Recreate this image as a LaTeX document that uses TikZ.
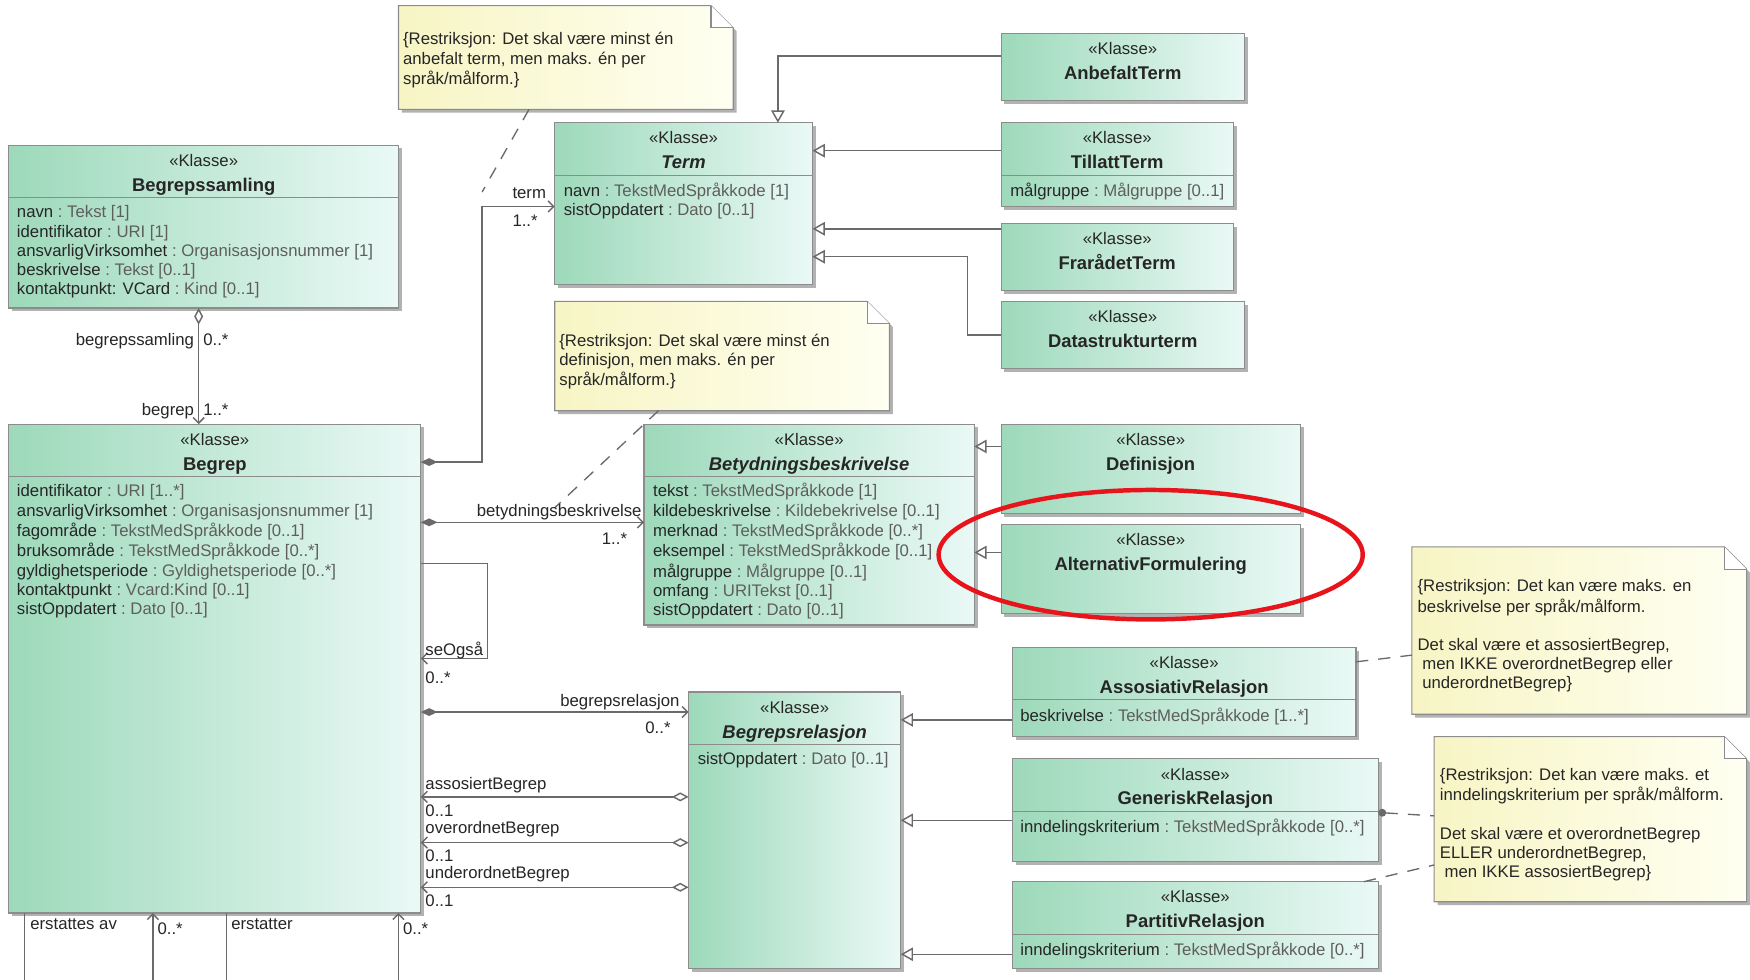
\documentclass[tikz,border=0pt]{standalone}
\usepackage{fontspec}
\setmainfont{Liberation Sans}
\usetikzlibrary{arrows.meta,shadows,calc}
\definecolor{clsL}{HTML}{9DD9BA}
\definecolor{clsR}{HTML}{EAF9F6}
\definecolor{clsborder}{HTML}{8C8C8C}
\definecolor{lncol}{HTML}{6A6A6A}
\definecolor{txtdark}{HTML}{262626}
\definecolor{txttype}{HTML}{5E5E5E}
\definecolor{noteL}{HTML}{F7F5C4}
\definecolor{noteR}{HTML}{FFFFF2}
\definecolor{hlred}{HTML}{E8141C}
\newcommand\attrfont{\fontsize{15}{17.2}\selectfont}
\newcommand\titlefont{\fontsize{16.5}{19}\selectfont\bfseries}
\newcommand\uattr[2]{\strut\textcolor{txtdark}{#1}\ \textcolor{txttype}{:\ #2}}
\newcommand\klasse[6]{%
  \node[clsbox, minimum width={#4-#2}, minimum height={#5-#3}] (#1) at (#2,#3) {};
  \node[stereo] (#1st) at ({(#2+#4)/2},{#3+15}) {«Klasse»};
  \node[ctitle] (#1ti) at ({(#2+#4)/2},{#3+37}) {#6};}
\newcommand\kdiv[1]{\draw[divline] ([yshift=-47pt]#1.north west) -- ([yshift=-47pt]#1.north east);}
\newcommand\umlnote[5]{%
  \node[anchor=north west, inner sep=0pt, outer sep=0pt, minimum width={#4-#2}, minimum height={#5-#3}] (#1) at (#2,#3) {};
  \path[notebody] (#1.north west) -- ([xshift=-20pt]#1.north east) -- ([yshift=-20pt]#1.north east) -- (#1.south east) -- (#1.south west) -- cycle;
  \draw[notefold] ([xshift=-20pt]#1.north east) -- ([xshift=-20pt,yshift=-20pt]#1.north east) -- ([yshift=-20pt]#1.north east);}
\begin{document}
\begin{tikzpicture}[x=1pt,y=-1pt,
  clsbox/.style={draw=clsborder, line width=1pt, left color=clsL, right color=clsR, anchor=north west, inner sep=0pt, outer sep=0pt,
    drop shadow={shadow xshift=3pt, shadow yshift=-3pt, fill=black, opacity=0.3}},
  stereo/.style={font=\attrfont, text=txtdark, inner sep=0pt, text height=11pt, text depth=3pt},
  ctitle/.style={font=\titlefont, text=black!85, inner sep=0pt, text height=12pt, text depth=3.5pt},
  divline/.style={draw=clsborder, line width=1pt},
  attrs/.style={anchor=north west, inner sep=0pt, align=left, font=\attrfont},
  notetext/.style={anchor=north west, inner sep=0pt, align=left, font=\attrfont, text=txtdark},
  notebody/.style={draw=clsborder, line width=1pt, left color=noteL, right color=noteR,
    drop shadow={shadow xshift=3pt, shadow yshift=-3pt, fill=black, opacity=0.3}},
  notefold/.style={draw=clsborder, line width=1pt, fill=white},
  lbl/.style={font=\attrfont, text=txtdark, inner sep=0pt, text height=11pt, text depth=3pt},
  assoc/.style={draw=lncol, line width=1.3pt},
  navi/.style={-{Straight Barb[length=5pt,width=10pt]}},
  gen/.style={assoc, -{Triangle[length=11pt,width=12pt,fill=white]}},
  noteln/.style={draw=lncol, line width=1.2pt, dash pattern=on 11pt off 9pt},
  fdia/.style={{Diamond[length=15pt,width=7pt]}-{Straight Barb[length=5pt,width=10pt]}},
  hdia/.style={{Straight Barb[length=5pt,width=10pt]}-{Diamond[length=15pt,width=8pt,fill=white]}}
]
\useasboundingbox (0,0) rectangle (1568,878);
\clip (0,0) rectangle (1568,878);
\fill[white] (0,0) rectangle (1568,878);

% ---------- notes ----------
\umlnote{noteA}{357}{5}{657}{98}
\node[notetext] (noteAt) at (361,28) {\strut\{Restriksjon: Det skal være minst én\\ \strut anbefalt term, men maks. én per\\ \strut språk/målform.\}};
\umlnote{noteB}{497}{270}{797}{368}
\node[notetext] (noteBt) at (501,298) {\strut\{Restriksjon: Det skal være minst én\\ \strut definisjon, men maks. én per\\ \strut språk/målform.\}};
\umlnote{noteC}{1265}{490}{1565}{640}
\node[notetext] (noteCt) at (1270,518) {\strut\{Restriksjon: Det kan være maks. en\\ \strut beskrivelse per språk/målform.\\ \strut\\ \strut Det skal være et assosiertBegrep,\\ \strut\ men IKKE overordnetBegrep eller\\ \strut\ underordnetBegrep\}};
\umlnote{noteD}{1285}{660}{1565}{808}
\node[notetext] (noteDt) at (1290,687) {\strut\{Restriksjon: Det kan være maks. et\\ \strut inndelingskriterium per språk/målform.\\ \strut\\ \strut Det skal være et overordnetBegrep\\ \strut ELLER underordnetBegrep,\\ \strut\ men IKKE assosiertBegrep\}};

% ---------- classes ----------
\klasse{samling}{8}{130}{357}{276}{Begrepssamling}
\kdiv{samling}
\node[attrs] (samlingat) at (15,183) {\uattr{navn}{Tekst [1]}\\ \uattr{identifikator}{URI [1]}\\ \uattr{ansvarligVirksomhet}{Organisasjonsnummer [1]}\\ \uattr{beskrivelse}{Tekst [0..1]}\\ \uattr{kontaktpunkt: VCard}{Kind [0..1]}};

\klasse{term}{497}{110}{728}{255}{\itshape Term}
\kdiv{term}
\node[attrs] (termat) at (505,164) {\uattr{navn}{TekstMedSpråkkode [1]}\\ \uattr{sistOppdatert}{Dato [0..1]}};

\klasse{anbef}{897}{30}{1115}{90}{AnbefaltTerm}
\klasse{tillatt}{897}{110}{1105}{185}{TillattTerm}
\kdiv{tillatt}
\node[attrs] (tillattat) at (905,164) {\uattr{målgruppe}{Målgruppe [0..1]}};
\klasse{frarad}{897}{200}{1105}{260}{FrarådetTerm}
\klasse{datas}{897}{270}{1115}{330}{Datastrukturterm}

\klasse{begrep}{8}{380}{377}{818}{Begrep}
\kdiv{begrep}
\node[attrs] (begrepat) at (15,433) {\uattr{identifikator}{URI [1..*]}\\ \uattr{ansvarligVirksomhet}{Organisasjonsnummer [1]}\\ \uattr{fagområde}{TekstMedSpråkkode [0..1]}\\ \uattr{bruksområde}{TekstMedSpråkkode [0..*]}\\ \uattr{gyldighetsperiode}{Gyldighetsperiode [0..*]}\\ \uattr{kontaktpunkt}{Vcard:Kind [0..1]}\\ \uattr{sistOppdatert}{Dato [0..1]}};

\klasse{betyd}{577}{380}{873}{560}{\itshape Betydningsbeskrivelse}
\kdiv{betyd}
\node[attrs] (betydat) at (585,433) {\uattr{tekst}{TekstMedSpråkkode [1]}\\ \uattr{kildebeskrivelse}{Kildebekrivelse [0..1]}\\ \uattr{merknad}{TekstMedSpråkkode [0..*]}\\ \uattr{eksempel}{TekstMedSpråkkode [0..1]}\\ \uattr{målgruppe}{Målgruppe [0..1]}\\ \uattr{omfang}{URITekst [0..1]}\\ \uattr{sistOppdatert}{Dato [0..1]}};

\klasse{defin}{897}{380}{1165}{460}{Definisjon}
\klasse{altform}{897}{470}{1165}{550}{AlternativFormulering}

\klasse{brel}{617}{620}{807}{868}{\itshape Begrepsrelasjon}
\kdiv{brel}
\node[attrs] (brelat) at (625,673) {\uattr{sistOppdatert}{Dato [0..1]}};

\klasse{assrel}{907}{580}{1215}{660}{AssosiativRelasjon}
\kdiv{assrel}
\node[attrs] (assrelat) at (914,634) {\uattr{beskrivelse}{TekstMedSpråkkode [1..*]}};
\klasse{genrel}{907}{680}{1235}{772}{GeneriskRelasjon}
\kdiv{genrel}
\node[attrs] (genrelat) at (914,734) {\uattr{inndelingskriterium}{TekstMedSpråkkode [0..*]}};
\klasse{partrel}{907}{790}{1235}{868}{PartitivRelasjon}
\kdiv{partrel}
\node[attrs] (partrelat) at (914,844) {\uattr{inndelingskriterium}{TekstMedSpråkkode [0..*]}};

% ---------- generalizations ----------
\draw[gen] ([yshift=-20pt]anbef.north west) -| ([xshift=200pt]term.north west);
\draw[gen] ([yshift=-25pt]tillatt.north west) -- ([yshift=-25pt]term.north east);
\draw[gen] ([yshift=-5pt]frarad.north west) -- ([yshift=-95pt]term.north east);
\draw[gen] ([yshift=-30pt]datas.north west) -- ++(-30,0) |- ([yshift=-120pt]term.north east);
\draw[gen] ([yshift=-20pt]defin.north west) -- ([yshift=-20pt]betyd.north east);
\draw[gen] ([yshift=-25pt]altform.north west) -- ([yshift=-115pt]betyd.north east);
\draw[gen] ([yshift=-65pt]assrel.north west) -- ([yshift=-25pt]brel.north east);
\draw[gen] ([yshift=-55pt]genrel.north west) -- ([yshift=-115pt]brel.north east);
\draw[gen] ([yshift=-65pt]partrel.north west) -- ([yshift=-235pt]brel.north east);

% ---------- associations ----------
\draw[assoc, {Diamond[length=15pt,width=8pt,fill=white]}-{Straight Barb[length=5pt,width=10pt]}] ([xshift=170pt]samling.south west) -- ([xshift=170pt]begrep.north west);
\draw[assoc, fdia] ([yshift=-34pt]begrep.north east) -- ++(55,0) |- ([yshift=-75pt]term.north west);
\draw[assoc, fdia] ([yshift=-88pt]begrep.north east) -- ([yshift=-88pt]betyd.north west);
\draw[assoc, navi] ([yshift=-125pt]begrep.north east) -- ++(60,0) -- ++(0,85) -- ([yshift=-210pt]begrep.north east);
\draw[assoc, fdia] ([yshift=-258pt]begrep.north east) -- ([yshift=-18pt]brel.north west);
\draw[assoc, hdia] ([yshift=-334pt]begrep.north east) -- ([yshift=-94pt]brel.north west);
\draw[assoc, hdia] ([yshift=-375pt]begrep.north east) -- ([yshift=-135pt]brel.north west);
\draw[assoc, hdia] ([yshift=-415pt]begrep.north east) -- ([yshift=-175pt]brel.north west);
\draw[assoc, navi] ([xshift=14pt]begrep.south west) -- ++(0,75) -| ([xshift=129pt]begrep.south west);
\draw[assoc, navi] ([xshift=195pt]begrep.south west) -- ++(0,75) -| ([xshift=349pt]begrep.south west);

% ---------- note connectors ----------
\coordinate (n1end) at (432,172);
\coordinate (n2end) at (497,455);
\draw[noteln] ([xshift=117pt]noteA.south west) -- (n1end);
\draw[noteln] ([xshift=93pt]noteB.south west) -- (n2end);
\draw[noteln] ([yshift=-13pt]assrel.north east) -- ([yshift=-97pt]noteC.north west);
\draw[noteln, {Circle[length=7pt]}-] ([yshift=-48pt]genrel.north east) -- ([yshift=-71pt]noteD.north west);
\draw[noteln] ([xshift=-13pt]partrel.north east) -- ([yshift=-115pt]noteD.north west);

% ---------- labels ----------
\node[lbl, anchor=east] (l1) at (174,306) {begrepssamling};
\node[lbl, anchor=west] (l2) at (182,306) {0..*};
\node[lbl, anchor=east] (l3) at (174,368) {begrep};
\node[lbl, anchor=west] (l4) at (182,368) {1..*};
\node[lbl, anchor=west] (l5) at (459,174) {term};
\node[lbl, anchor=west] (l6) at (459,199) {1..*};
\node[lbl, anchor=east] (l7) at (575,459) {betydningsbeskrivelse};
\node[lbl, anchor=east] (l8) at (562,484) {1..*};
\node[lbl, anchor=west] (l9) at (381,583) {seOgså};
\node[lbl, anchor=west] (l10) at (381,608) {0..*};
\node[lbl, anchor=east] (l11) at (609,629) {begrepsrelasjon};
\node[lbl, anchor=east] (l12) at (601,653) {0..*};
\node[lbl, anchor=west] (l13) at (381,703) {assosiertBegrep};
\node[lbl, anchor=west] (l14) at (381,728) {0..1};
\node[lbl, anchor=west] (l15) at (381,743) {overordnetBegrep};
\node[lbl, anchor=west] (l16) at (381,768) {0..1};
\node[lbl, anchor=west] (l17) at (381,783) {underordnetBegrep};
\node[lbl, anchor=west] (l18) at (381,808) {0..1};
\node[lbl, anchor=west] (l19) at (27,829) {erstattes av};
\node[lbl, anchor=west] (l20) at (141,833) {0..*};
\node[lbl, anchor=west] (l21) at (207,829) {erstatter};
\node[lbl, anchor=west] (l22) at (361,833) {0..*};

% ---------- highlight ----------
\draw[hlred, line width=4pt] (1031,497) ellipse [x radius=190, y radius=58];
\end{tikzpicture}
\end{document}
